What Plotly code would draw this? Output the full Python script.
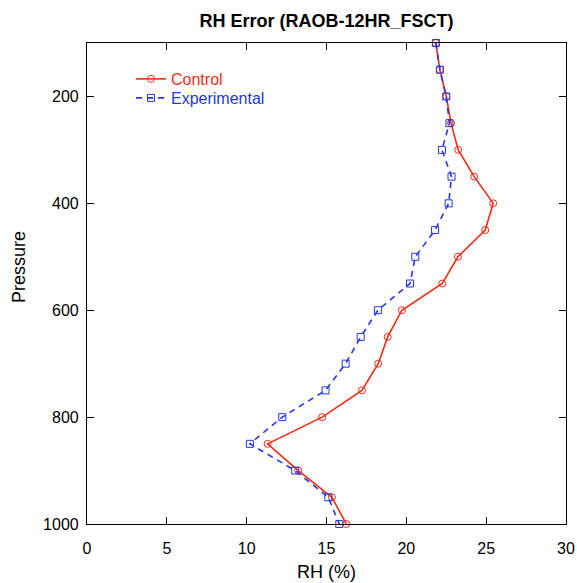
import plotly.graph_objects as go

pressure = [100, 150, 200, 250, 300, 350, 400, 450, 500, 550, 600, 650, 700, 750, 800, 850, 900, 950, 1000]
control = [21.85, 22.1, 22.5, 22.8, 23.25, 24.25, 25.44, 24.94, 23.23, 22.25, 19.72, 18.83, 18.24, 17.22, 14.73, 11.31, 13.23, 15.34, 16.24]
experimental = [21.85, 22.1, 22.5, 22.7, 22.23, 22.83, 22.65, 21.8, 20.56, 20.23, 18.22, 17.14, 16.2, 14.94, 12.23, 10.2, 13.04, 15.11, 15.8]
x_ticks = [0, 5, 10, 15, 20, 25, 30]
y_ticks = [200, 400, 600, 800, 1000]

RED = "rgb(240,45,20)"
BLUE = "rgb(35,55,230)"
FONT = "Liberation Sans, Arial, sans-serif"

L, R, T, B = 87, 11, 43, 59
W, H = 577, 583
PW, PH = W - L - R, H - T - B

fig = go.Figure()
fig.add_trace(go.Scatter(
    x=control, y=pressure, mode="lines+markers",
    name="<span style='color:%s'>Control</span>" % RED,
    line=dict(color=RED, width=1.6),
    marker=dict(symbol="circle-open", size=7, color=RED, line=dict(width=1)),
    cliponaxis=False, legend="legend",
))
fig.add_trace(go.Scatter(
    x=experimental, y=pressure, mode="lines+markers",
    name="<span style='color:%s'>Experimental</span>" % BLUE,
    line=dict(color=BLUE, width=1.6, dash="6px,5px"),
    marker=dict(symbol="square-open", size=7, color=BLUE, line=dict(width=1)),
    cliponaxis=False, legend="legend2",
))

axis_common = dict(
    showline=True, linecolor="black", linewidth=1.2, mirror="allticks",
    ticks="inside", ticklen=7, tickcolor="black", tickwidth=1,
    showgrid=False, zeroline=False, automargin=False,
    tickfont=dict(family=FONT, size=16, color="black"),
)

def leg(ypix):
    return dict(x=(131 - L) / PW, y=(H - B - ypix) / PH, xanchor="left", yanchor="middle",
                bgcolor="rgba(0,0,0,0)", font=dict(family=FONT, size=16),
                borderwidth=0)

fig.update_layout(
    width=W, height=H,
    margin=dict(l=L, r=R, t=T, b=B, autoexpand=False),
    plot_bgcolor="white", paper_bgcolor="white",
    title=dict(text="<b>RH Error (RAOB-12HR_FSCT)</b>", x=(L + W - R) / 2 / W, xanchor="center",
               y=1 - 21 / H, yanchor="middle",
               font=dict(family=FONT, size=18, color="black")),
    xaxis=dict(range=[0, 30], tickvals=x_ticks, ticklabelstandoff=10, **axis_common,
               title=dict(text="RH (%)", font=dict(family=FONT, size=18, color="black"), standoff=9)),
    yaxis=dict(range=[1000, 100], tickvals=y_ticks, ticklabelstandoff=4, **axis_common),
    legend=leg(79),
    legend2=leg(98),
    showlegend=True,
    annotations=[dict(text="Pressure", textangle=-90, xref="paper", yref="paper",
                      x=(19 - L) / PW, y=(H - B - 267) / PH, xanchor="center", yanchor="middle",
                      showarrow=False, font=dict(family=FONT, size=18, color="black"))],
)

fig.write_html("out.html", config={"displayModeBar": False},
               post_script="document.body.style.margin='0';document.body.style.padding='0';")
